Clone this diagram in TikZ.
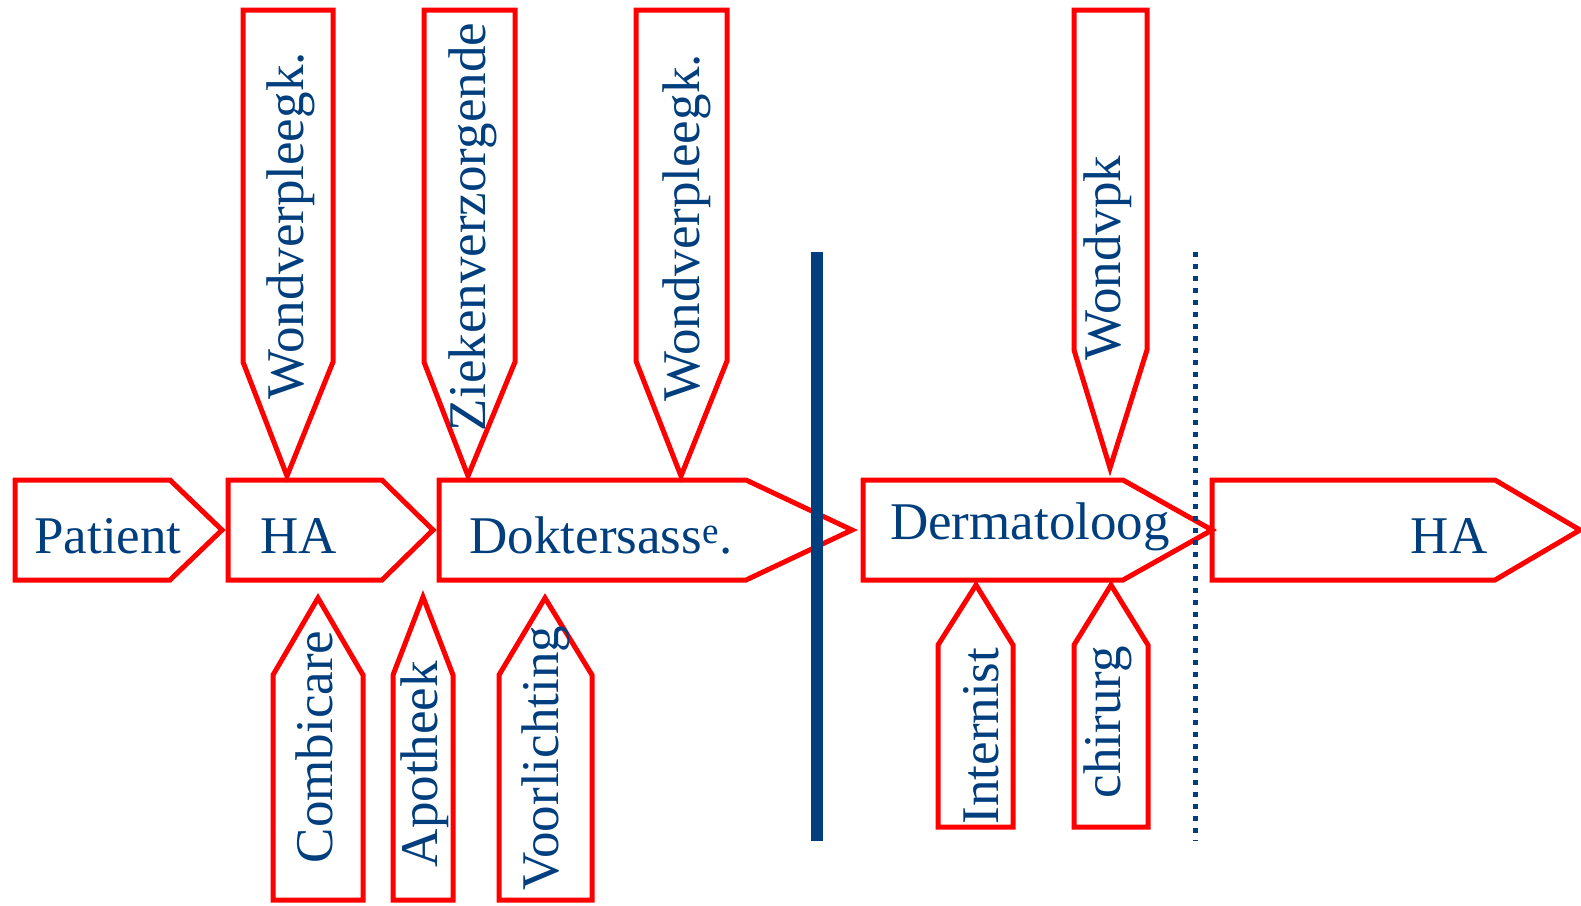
\documentclass[tikz,border=0pt]{standalone}
\usepackage{fontspec}
\setmainfont{Liberation Serif}
\definecolor{rd}{RGB}{255,0,0}
\definecolor{nb}{RGB}{0,62,126}
\begin{document}
\begin{tikzpicture}[x=1pt,y=-1pt,
  shp/.style={draw=rd,line width=5pt,line join=miter},
  lbl/.style={text=nb,font=\fontsize{53}{60}\selectfont,inner sep=0pt,anchor=base},
  vlbl/.style={lbl,rotate=90}]
\useasboundingbox (0,0) rectangle (1581,905);
% main flow arrows
\draw[shp] (15,480) -- (170,480) -- (222,530) -- (170,580) -- (15,580) -- cycle;
\draw[shp] (228,480) -- (382,480) -- (433,530) -- (382,580) -- (228,580) -- cycle;
\draw[shp] (439,480) -- (746,480) -- (852,530) -- (746,580) -- (439,580) -- cycle;
\draw[shp] (863,480) -- (1123,480) -- (1212,530) -- (1123,580) -- (863,580) -- cycle;
\draw[shp] (1212,480) -- (1495,480) -- (1580,530) -- (1495,580) -- (1212,580) -- cycle;
% top callouts
\draw[shp] (243,10) -- (333,10) -- (333,362) -- (287,476) -- (243,362) -- cycle;
\draw[shp] (424,10) -- (515,10) -- (515,362) -- (468,476) -- (424,362) -- cycle;
\draw[shp] (636,10) -- (727,10) -- (727,361) -- (681,476) -- (636,361) -- cycle;
\draw[shp] (1074,10) -- (1147,10) -- (1147,350) -- (1110,468) -- (1074,350) -- cycle;
% bottom callouts
\draw[shp] (273,900) -- (273,675) -- (318,598) -- (363,675) -- (363,900) -- cycle;
\draw[shp] (393,900) -- (393,675) -- (423,597) -- (453,675) -- (453,900) -- cycle;
\draw[shp] (499,900) -- (499,675) -- (545,598) -- (592,675) -- (592,900) -- cycle;
\draw[shp] (938,827) -- (938,645) -- (976,585) -- (1013,645) -- (1013,827) -- cycle;
\draw[shp] (1074,827) -- (1074,645) -- (1111,585) -- (1148,645) -- (1148,827) -- cycle;
% separators
\draw[nb,line width=12pt] (817,252) -- (817,841);
\draw[nb,line width=5pt,dash pattern=on 5pt off 7pt] (1195,252) -- (1195,841);
% labels
\node[lbl] (patient) at (108,553) {Patient};
\node[lbl] (ha1) at (299,553) {HA};
\node[lbl] (dok) at (601,553) {Doktersass\textsuperscript{e}.};
\node[lbl] (derm) at (1030,539) {Dermatoloog};
\node[lbl] (ha2) at (1449,553) {HA};
\node[vlbl] (wv1) at (303,226) {Wondverpleegk.};
\node[vlbl] (zv) at (485,227) {Ziekenverzorgende};
\node[vlbl] (wv2) at (699,228) {Wondverpleegk.};
\node[vlbl] (wvpk) at (1120,258) {Wondvpk};
\node[vlbl] (comb) at (332,747) {Combicare};
\node[vlbl] (apo) at (437,764) {Apotheek};
\node[vlbl] (voor) at (558,758) {Voorlichting};
\node[vlbl] (int) at (998,736) {Internist};
\node[vlbl] (chir) at (1120,722) {chirurg};
\end{tikzpicture}
\end{document}
